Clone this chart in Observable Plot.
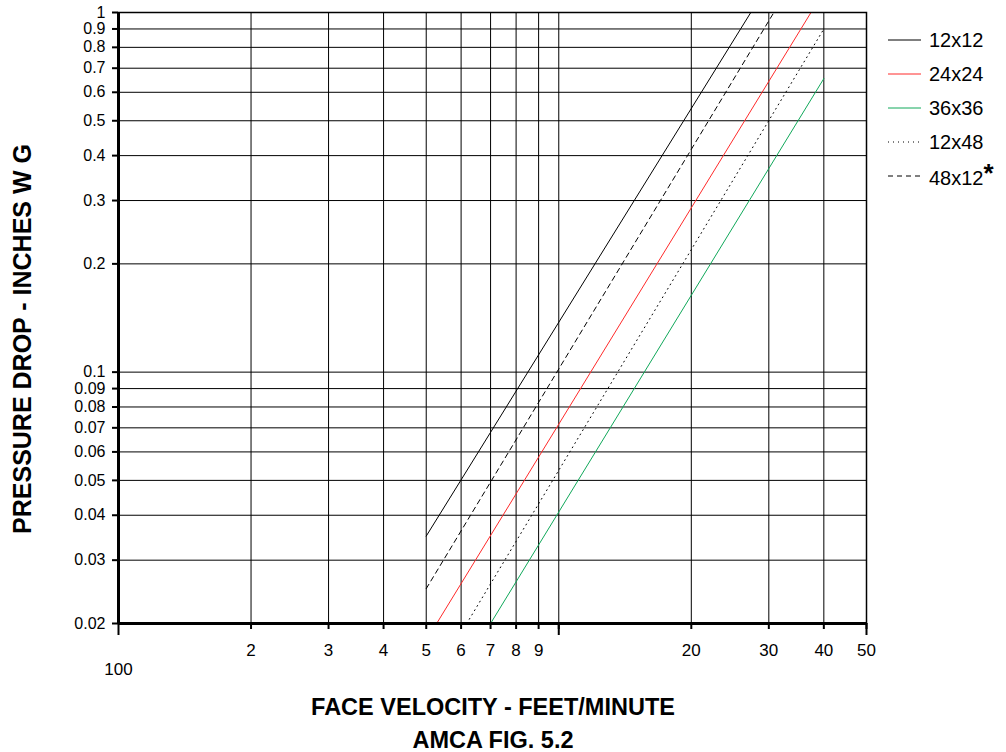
<!DOCTYPE html>
<html><head><meta charset="utf-8">
<script src="https://cdn.jsdelivr.net/npm/d3@7"></script>
<script src="https://cdn.jsdelivr.net/npm/@observablehq/plot@0.6"></script>
<style>
body{margin:0;background:#fff;font-family:"Liberation Sans",Arial,sans-serif;}
#wrap{position:relative;width:1006px;height:752px;}
#legend{position:absolute;left:888px;top:23px;font-size:20px;color:#000;}
.row{display:flex;align-items:center;height:34px;}
.row svg{width:34px;height:10px;margin-right:7px;overflow:visible}
.title{position:absolute;left:0;width:986px;text-align:center;font-weight:bold;font-size:23.5px;}
</style></head>
<body>
<div id="wrap">
<div id="chart"></div>
<div id="legend"></div>
<div class="title" style="top:694px">FACE VELOCITY - FEET/MINUTE</div>
<div class="title" style="top:727px">AMCA FIG. 5.2</div>
</div>
<script>
// ---- data ----
const sizes = ["12x12", "24x24", "36x36", "12x48", "48x12*"];
const velocityStart = [5, 5.28, 7, 6.18, 5];
const velocityEnd = [27.3, 37.4, 40, 40, 30.8];
const dropStart = [0.035, 0.02, 0.02, 0.02, 0.025];
const dropEnd = [1.0, 1.0, 0.655, 0.9, 1.0];

const xTicks = [2, 3, 4, 5, 6, 7, 8, 9, 10, 20, 30, 40, 50];
const xTickLabels = ["2", "3", "4", "5", "6", "7", "8", "9", "", "20", "30", "40", "50"];
const xOriginLabel = "100";
const yTicks = [0.02, 0.03, 0.04, 0.05, 0.06, 0.07, 0.08, 0.09, 0.1, 0.2, 0.3, 0.4, 0.5, 0.6, 0.7, 0.8, 0.9, 1];
const yTickLabels = ["0.02", "0.03", "0.04", "0.05", "0.06", "0.07", "0.08", "0.09", "0.1", "0.2", "0.3", "0.4", "0.5", "0.6", "0.7", "0.8", "0.9", "1"];

// ---- styles ----
const strokes = ["#000", "#ff2a2a", "#10a85a", "#000", "#000"];
const dashes = [null, null, null, "1,4", "5,4"];

const rows = sizes.flatMap((s, i) => [
  {name: s, v: velocityStart[i], p: dropStart[i]},
  {name: s, v: velocityEnd[i], p: dropEnd[i]}
]);

const chart = Plot.plot({
  width: 1006,
  height: 680,
  marginTop: 12,
  marginLeft: 118,
  marginRight: 140,
  marginBottom: 57,
  style: {fontFamily: '"Liberation Sans", Arial, sans-serif', background: "#fff", color: "#000"},
  x: {type: "log", domain: [1, 50]},
  y: {type: "log", domain: [0.02, 1]},
  marks: [
    Plot.ruleX(xTicks.filter(t => t < 50), {stroke: "#000", strokeWidth: 1}),
    Plot.ruleY(yTicks, {stroke: "#000", strokeWidth: 1}),
    ...sizes.map((s, i) => Plot.line(rows.filter(r => r.name === s), {
      x: "v", y: "p", stroke: strokes[i], strokeWidth: 1, strokeDasharray: dashes[i]
    })),
    Plot.frame({stroke: "#000", strokeWidth: 1.5}),
    Plot.ruleX([1], {stroke: "#000", strokeWidth: 3}),
    Plot.ruleY([0.02], {stroke: "#000", strokeWidth: 3}),
    Plot.axisX({ticks: xTicks, tickFormat: () => "", tickSize: 6, strokeWidth: 2, label: null}),
    Plot.axisX({ticks: [1, 10, 50], tickFormat: () => "", tickSize: 12, strokeWidth: 2, label: null}),
    Plot.axisY({ticks: yTicks, tickFormat: () => "", tickSize: 6, strokeWidth: 2, label: null}),
    Plot.text(xTicks, {x: d => d, frameAnchor: "bottom", lineAnchor: "middle", dy: 27, text: (d, i) => xTickLabels[i], fontSize: 17}),
    Plot.text([1], {x: d => d, frameAnchor: "bottom", lineAnchor: "middle", dy: 46, text: () => xOriginLabel, fontSize: 17}),
    Plot.text(yTicks, {y: d => d, frameAnchor: "left", textAnchor: "end", lineAnchor: "middle", dx: -13, text: (d, i) => yTickLabels[i], fontSize: 16}),
    Plot.text(["PRESSURE DROP - INCHES W G"], {frameAnchor: "left", textAnchor: "middle", lineAnchor: "middle", dx: -96, dy: 21, rotate: -90, fontWeight: "bold", fontSize: 25, text: d => d})
  ]
});
document.getElementById("chart").appendChild(chart);

// legend
const leg = document.getElementById("legend");
sizes.forEach((s, i) => {
  const row = document.createElement("div");
  row.className = "row";
  row.innerHTML = `<svg><line x1="0" x2="33" y1="5" y2="5" stroke="${strokes[i]}" stroke-width="1" ${dashes[i] ? `stroke-dasharray="${dashes[i]}"` : ""}/></svg><span>${s.replace("*", "<span style='font-size:26px;font-weight:bold;position:relative;top:-3px'>*</span>")}</span>`;
  leg.appendChild(row);
});
</script>
</body></html>
